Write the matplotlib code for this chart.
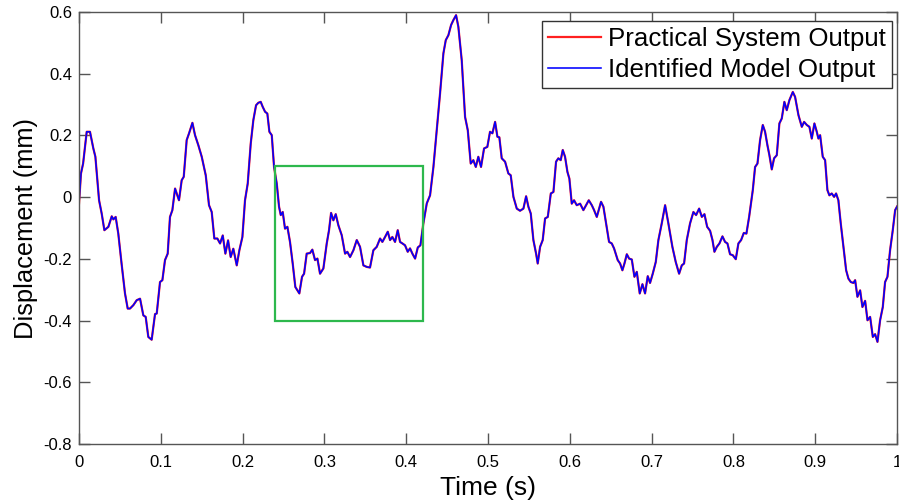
import matplotlib
matplotlib.use("Agg")
import matplotlib.pyplot as plt
from matplotlib.patches import Rectangle

plt.rcParams['font.family'] = ['Liberation Sans', 'DejaVu Sans']

# time axis (s)
time = [0.0, 0.0024, 0.005, 0.0094, 0.0134, 0.0175, 0.020, 0.0245, 0.0277, 0.031,
        0.0359, 0.040, 0.042, 0.0448, 0.048, 0.052, 0.0562, 0.0595, 0.0623, 0.0664,
        0.0705, 0.0746, 0.0786, 0.0815, 0.0847, 0.0888, 0.0929, 0.095, 0.099, 0.1019,
        0.1051, 0.1084, 0.1112, 0.1141, 0.1174, 0.1194, 0.1222, 0.1255, 0.128, 0.1316,
        0.1345, 0.1386, 0.1418, 0.1459, 0.15, 0.1549, 0.1589, 0.1622, 0.1654, 0.1691,
        0.1724, 0.1757, 0.1789, 0.1822, 0.1854, 0.1886, 0.1928, 0.196, 0.1997, 0.2029,
        0.2062, 0.2099, 0.2131, 0.2164, 0.2192, 0.2221, 0.2245, 0.2274, 0.2302, 0.2327,
        0.2356, 0.2384, 0.2417, 0.2445, 0.2466, 0.249, 0.2518, 0.2547, 0.2579, 0.2612,
        0.2644, 0.2669, 0.2693, 0.2726, 0.2751, 0.2783, 0.2824, 0.2852, 0.2885, 0.2914,
        0.2946, 0.2987, 0.3028, 0.3056, 0.3081, 0.3109, 0.3138, 0.317, 0.3211, 0.3252,
        0.328, 0.3313, 0.3354, 0.3395, 0.3435, 0.3476, 0.3517, 0.3557, 0.3598, 0.3639,
        0.368, 0.3708, 0.3741, 0.3774, 0.3802, 0.383, 0.3863, 0.3896, 0.3924, 0.3953,
        0.3985, 0.4018, 0.4046, 0.4075, 0.4108, 0.4141, 0.4173, 0.4209, 0.4251, 0.4291,
        0.4332, 0.4373, 0.4413, 0.4454, 0.4483, 0.4515, 0.4548, 0.4576, 0.4609, 0.4637,
        0.4678, 0.4719, 0.4752, 0.4788, 0.482, 0.485, 0.4881, 0.4914, 0.4951, 0.4991,
        0.5024, 0.5053, 0.5086, 0.5114, 0.5138, 0.5167, 0.5208, 0.5248, 0.5277, 0.531,
        0.5351, 0.5391, 0.5432, 0.5465, 0.5493, 0.5522, 0.5554, 0.5587, 0.5607, 0.5636,
        0.5668, 0.5697, 0.573, 0.5767, 0.5799, 0.5831, 0.5859, 0.5888, 0.5913, 0.5941,
        0.597, 0.5994, 0.6023, 0.6051, 0.6084, 0.6125, 0.6165, 0.6198, 0.6231, 0.6268,
        0.6296, 0.6329, 0.6357, 0.6381, 0.641, 0.6443, 0.6479, 0.6512, 0.654, 0.6585,
        0.6614, 0.6642, 0.6667, 0.6696, 0.6724, 0.6757, 0.6789, 0.6818, 0.6854, 0.6887,
        0.6919, 0.6952, 0.698, 0.7013, 0.705, 0.7082, 0.7123, 0.7164, 0.7204, 0.7253,
        0.7294, 0.7335, 0.7368, 0.7396, 0.7429, 0.7469, 0.751, 0.7543, 0.758, 0.7613,
        0.7645, 0.7678, 0.7714, 0.7743, 0.7767, 0.7796, 0.7828, 0.7865, 0.7897, 0.7926,
        0.7958, 0.7991, 0.8028, 0.806, 0.8093, 0.8126, 0.8158, 0.8191, 0.8236, 0.8264,
        0.8293, 0.8325, 0.8358, 0.8386, 0.8415, 0.8439, 0.8468, 0.8496, 0.8529, 0.8561,
        0.859, 0.8622, 0.8651, 0.8684, 0.8725, 0.8753, 0.8794, 0.8835, 0.8863, 0.8896,
        0.8928, 0.8957, 0.8989, 0.9018, 0.9038, 0.9059, 0.9091, 0.912, 0.9148, 0.9172,
        0.9201, 0.923, 0.9254, 0.9282, 0.9311, 0.9344, 0.9377, 0.9405, 0.9434, 0.9466,
        0.9487, 0.9515, 0.9548, 0.9576, 0.9609, 0.9638, 0.967, 0.9703, 0.9731, 0.976,
        0.9792, 0.9825, 0.9853, 0.9882, 0.9914, 0.9947, 0.9976, 1.0]

# displacement (mm) - both outputs lie on top of each other in the figure
displacement = [-0.02, 0.077, 0.109, 0.212, 0.212, 0.158, 0.131, -0.01, -0.053, -0.107,
        -0.096, -0.062, -0.072, -0.064, -0.118, -0.215, -0.312, -0.361, -0.361, -0.35,
        -0.334, -0.329, -0.383, -0.388, -0.453, -0.462, -0.379, -0.377, -0.275, -0.269,
        -0.204, -0.183, -0.064, -0.042, 0.028, 0.012, -0.01, 0.055, 0.066, 0.185,
        0.207, 0.241, 0.201, 0.168, 0.131, 0.071, -0.026, -0.048, -0.134, -0.134,
        -0.150, -0.124, -0.183, -0.14, -0.194, -0.167, -0.221, -0.172, -0.129, -0.01,
        0.044, 0.174, 0.25, 0.298, 0.306, 0.309, 0.293, 0.277, 0.271, 0.212,
        0.201, 0.098, 0.044, -0.031, -0.058, -0.048, -0.102, -0.096, -0.145, -0.215,
        -0.291, -0.302, -0.312, -0.258, -0.248, -0.183, -0.181, -0.17, -0.204, -0.199,
        -0.248, -0.231, -0.15, -0.107, -0.051, -0.075, -0.055, -0.091, -0.123, -0.183,
        -0.177, -0.194, -0.172, -0.139, -0.161, -0.221, -0.226, -0.228, -0.172, -0.161,
        -0.134, -0.145, -0.129, -0.112, -0.139, -0.129, -0.145, -0.107, -0.145, -0.15,
        -0.156, -0.177, -0.166, -0.183, -0.199, -0.163, -0.156, -0.085, -0.02, 0.006,
        0.098, 0.217, 0.336, 0.466, 0.509, 0.525, 0.558, 0.574, 0.59, 0.552,
        0.444, 0.26, 0.217, 0.109, 0.12, 0.098, 0.131, 0.098, 0.158, 0.163,
        0.212, 0.207, 0.244, 0.196, 0.194, 0.126, 0.115, 0.077, 0.071, 0.001,
        -0.037, -0.044, -0.037, 0.003, -0.031, -0.053, -0.139, -0.183, -0.215, -0.161,
        -0.139, -0.069, -0.064, 0.012, 0.017, 0.115, 0.126, 0.12, 0.153, 0.131,
        0.082, 0.06, -0.021, -0.01, -0.026, -0.021, -0.042, -0.026, -0.01, -0.026,
        -0.042, -0.064, -0.037, -0.015, -0.031, -0.085, -0.145, -0.15, -0.166, -0.204,
        -0.215, -0.237, -0.215, -0.185, -0.199, -0.202, -0.258, -0.242, -0.312, -0.282,
        -0.312, -0.256, -0.278, -0.248, -0.21, -0.139, -0.085, -0.026, -0.085, -0.161,
        -0.21, -0.248, -0.221, -0.215, -0.139, -0.085, -0.048, -0.058, -0.037, -0.064,
        -0.055, -0.096, -0.109, -0.139, -0.177, -0.161, -0.15, -0.127, -0.145, -0.15,
        -0.185, -0.188, -0.201, -0.15, -0.139, -0.116, -0.118, -0.064, 0.023, 0.098,
        0.109, 0.185, 0.234, 0.212, 0.168, 0.136, 0.09, 0.126, 0.136, 0.239,
        0.255, 0.309, 0.282, 0.315, 0.341, 0.325, 0.266, 0.228, 0.244, 0.234,
        0.228, 0.19, 0.239, 0.212, 0.19, 0.201, 0.131, 0.12, 0.023, 0.006,
        0.012, 0.001, 0.012, -0.01, -0.085, -0.161, -0.237, -0.264, -0.275, -0.278,
        -0.269, -0.323, -0.302, -0.356, -0.336, -0.399, -0.388, -0.453, -0.444, -0.469,
        -0.399, -0.356, -0.275, -0.258, -0.172, -0.107, -0.042, -0.03]

xticks = [0, 0.1, 0.2, 0.3, 0.4, 0.5, 0.6, 0.7, 0.8, 0.9, 1]
xtick_labels = ['0', '0.1', '0.2', '0.3', '0.4', '0.5', '0.6', '0.7', '0.8', '0.9', '1']
yticks = [-0.8, -0.6, -0.4, -0.2, 0, 0.2, 0.4, 0.6]
ytick_labels = ['-0.8', '-0.6', '-0.4', '-0.2', '0', '0.2', '0.4', '0.6']

# zoom box (time range, displacement range)
box_t = [0.24, 0.42]
box_d = [-0.4, 0.1]

fig = plt.figure(figsize=(8.99, 5.03), dpi=100)
ax = fig.add_axes([0.0879, 0.1173, 0.91, 0.8587])

ax.plot(time, displacement, color='#ff2020', lw=1.6, label='Practical System Output')
ax.plot(time, displacement, color='#0000ff', lw=1.15, label='Identified Model Output')

ax.add_patch(Rectangle((box_t[0], box_d[0]), box_t[1] - box_t[0], box_d[1] - box_d[0],
                       fill=False, edgecolor='#2db84d', lw=1.6, zorder=3))

ax.set_xlim(0, 1)
ax.set_ylim(-0.8, 0.6)
ax.set_xticks(xticks)
ax.set_xticklabels(xtick_labels)
ax.set_yticks(yticks)
ax.set_yticklabels(ytick_labels)
ax.tick_params(direction='in', length=8, width=1, color='#555555', labelsize=12,
               top=True, right=True)
ax.tick_params(axis='x', pad=8)
ax.tick_params(axis='y', pad=5)
for sp in ax.spines.values():
    sp.set_color('#555555')
    sp.set_linewidth(1.0)

ax.set_xlabel('Time (s)', fontsize=19, labelpad=4)
ax.set_ylabel('Displacement (mm)', fontsize=18.4, labelpad=4)

leg = ax.legend(loc='upper right', bbox_to_anchor=(0.9922, 0.9583),
                bbox_transform=fig.transFigure, fontsize=18.6, frameon=True,
                fancybox=False, borderpad=0.25, labelspacing=0.24, handlelength=2.05,
                handletextpad=0.25, borderaxespad=0, framealpha=1)
leg.get_frame().set_edgecolor('#333333')
leg.get_frame().set_linewidth(1.0)

fig.savefig('out.png', dpi=100)
